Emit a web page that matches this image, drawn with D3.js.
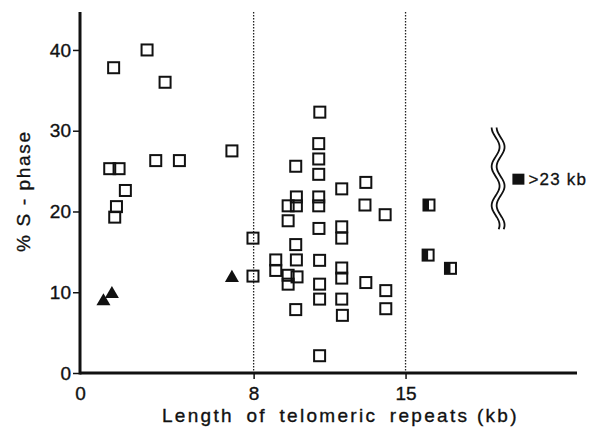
<!DOCTYPE html>
<html>
<head>
<meta charset="utf-8">
<script src="https://cdn.jsdelivr.net/npm/d3@7"></script>
<style>
  body { margin: 0; background: #fff; }
  text { font-family: "Liberation Sans", Arial, sans-serif; fill: #111; }
</style>
</head>
<body>
<svg id="chart" width="597" height="432"></svg>
<script>
// open squares (kb, % S-phase)
var openX = [1.55, 3.09, 3.92, 7.0, 3.49, 4.58, 1.37, 1.80, 2.09, 1.68, 1.60,
             7.97, 7.97,
             11.05, 11.0, 11.0, 11.0, 9.94, 12.06, 13.17, 9.97, 11.0,
             9.59, 9.97, 11.0, 13.13, 14.06, 9.59, 11.01, 12.06, 12.06,
             9.94, 9.02, 9.97, 11.04, 9.02, 9.59, 10.0, 9.59, 12.06, 12.06,
             13.17, 11.04, 14.09, 11.04, 12.06, 9.94, 14.09, 12.09, 11.04];
var openY = [37.8, 40.0, 36.0, 27.5, 26.3, 26.3, 25.3, 25.3, 22.6, 20.6, 19.3,
             16.7, 12.0,
             32.3, 28.4, 26.5, 24.6, 25.6, 22.8, 23.6, 21.8, 21.8,
             20.7, 20.7, 20.7, 20.8, 19.6, 18.85, 17.9, 18.1, 16.7,
             15.9, 14.0, 14.0, 13.95, 12.7, 12.1, 11.9, 11.0, 13.0, 11.75,
             11.2, 11.0, 10.2, 9.15, 9.15, 7.85, 7.96, 7.14, 2.14];

// filled triangles
var triX = [1.08, 1.47, 7.0];
var triY = [9.0, 9.9, 11.9];

// half filled squares
var halfX = [16.08, 16.04, 17.07];
var halfY = [20.8, 14.6, 12.96];

var yTicks = [0, 10, 20, 30, 40];
var xTicks = [0, 8, 15];
var cutLines = [8, 15];
var legendText = ">23 kb";

var svg = d3.select("#chart");

var x = d3.scaleLinear().domain([0, 22.9]).range([80, 577]);
var y = d3.scaleLinear().domain([0, 44.7]).range([373, 12]);

// dotted cut lines
svg.selectAll(".cut")
  .data(cutLines)
  .enter().append("line")
  .attr("class", "cut")
  .attr("x1", function (d) { return x(d); })
  .attr("x2", function (d) { return x(d); })
  .attr("y1", y(44.7))
  .attr("y2", y(0))
  .attr("stroke", "#222")
  .attr("stroke-width", 1.3)
  .attr("stroke-dasharray", "1.5,1.5");

// axes
var yAxis = d3.axisLeft(y).tickValues(yTicks).tickSize(7).tickPadding(2);
var xAxis = d3.axisBottom(x).tickValues(xTicks).tickSize(6).tickPadding(8);

var gy = svg.append("g").attr("transform", "translate(" + x(0) + ",0)").call(yAxis);
var gx = svg.append("g").attr("transform", "translate(0," + y(0) + ")").call(xAxis);

[gx, gy].forEach(function (g) {
  g.select(".domain").attr("stroke", "#111").attr("stroke-width", 3);
  g.selectAll(".tick line").attr("stroke", "#111").attr("stroke-width", 1.5);
  g.selectAll(".tick text")
    .attr("font-family", "'Liberation Sans', Arial, sans-serif")
    .attr("font-size", 19)
    .attr("fill", "#111")
    .attr("stroke", "#111")
    .attr("stroke-width", 0.35);
});
gx.select(".domain").attr("d", "M" + x(0) + ",0H" + x(22.9));
gy.select(".domain").attr("d", "M0," + y(44.7) + "V" + (y(0) + 1.5));
gx.selectAll(".tick").filter(function (d) { return d === 0; }).select("line").remove();

// open squares
var s = 11;
svg.selectAll(".sq")
  .data(openX.map(function (v, i) { return [v, openY[i]]; }))
  .enter().append("rect")
  .attr("class", "sq")
  .attr("x", function (d) { return x(d[0]) - s / 2; })
  .attr("y", function (d) { return y(d[1]) - s / 2; })
  .attr("width", s)
  .attr("height", s)
  .attr("fill", "none")
  .attr("stroke", "#111")
  .attr("stroke-width", 2);

// triangles
svg.selectAll(".tri")
  .data(triX.map(function (v, i) { return [v, triY[i]]; }))
  .enter().append("path")
  .attr("class", "tri")
  .attr("d", d3.symbol().type(d3.symbolTriangle).size(85))
  .attr("transform", function (d) { return "translate(" + x(d[0]) + "," + (y(d[1]) + 1) + ")"; })
  .attr("fill", "#111");

// half filled squares
var half = svg.selectAll(".half")
  .data(halfX.map(function (v, i) { return [v, halfY[i]]; }))
  .enter().append("g")
  .attr("class", "half")
  .attr("transform", function (d) { return "translate(" + x(d[0]) + "," + y(d[1]) + ")"; });
half.append("rect")
  .attr("x", -s / 2).attr("y", -s / 2).attr("width", s / 2).attr("height", s)
  .attr("fill", "#111");
half.append("rect")
  .attr("x", -s / 2).attr("y", -s / 2).attr("width", s).attr("height", s)
  .attr("fill", "none").attr("stroke", "#111").attr("stroke-width", 2);

// axis break (wavy lines) and legend
var waveTop = y(30.4), waveBot = y(17.8), waveX = x(19.15);
var pts = d3.range(0, 61).map(function (i) { return waveTop + (waveBot - waveTop) * i / 60; });
var wave = d3.line()
  .x(function (d) { return d[0]; })
  .y(function (d) { return d[1]; })
  .curve(d3.curveBasis);
[0, 5].forEach(function (off) {
  svg.append("path")
    .attr("d", wave(pts.map(function (p) {
      return [waveX + off + 4 * Math.sin((p - waveTop) / 39 * 2 * Math.PI - Math.PI / 2), p];
    })))
    .attr("fill", "none")
    .attr("stroke", "#111")
    .attr("stroke-width", 1.8);
});

svg.append("rect")
  .attr("x", x(20.2) - 6).attr("y", y(24.0) - 5.5)
  .attr("width", 12).attr("height", 11)
  .attr("fill", "#111");
svg.append("text")
  .attr("x", x(20.2) + 10)
  .attr("y", y(24.0) + 6)
  .attr("font-size", 17)
  .attr("letter-spacing", 1.2)
  .attr("stroke", "#111")
  .attr("stroke-width", 0.3)
  .text(legendText);

// axis titles
var xt = svg.append("text")
  .attr("x", 162)
  .attr("y", 421.5)
  .attr("font-size", 19)
  .attr("letter-spacing", 2.3)
  .attr("stroke", "#111")
  .attr("stroke-width", 0.35);
xt.append("tspan").attr("word-spacing", 5).text("Length of telomeric repeats");
xt.append("tspan").attr("word-spacing", 0).text(" (kb)");

svg.append("text")
  .attr("transform", "translate(30,192) rotate(-90)")
  .attr("text-anchor", "middle")
  .attr("font-size", 19)
  .attr("textLength", 120)
  .attr("lengthAdjust", "spacing")
  .attr("stroke", "#111")
  .attr("stroke-width", 0.35)
  .style("white-space", "pre")
  .text("% S - phase");
</script>
</body>
</html>
